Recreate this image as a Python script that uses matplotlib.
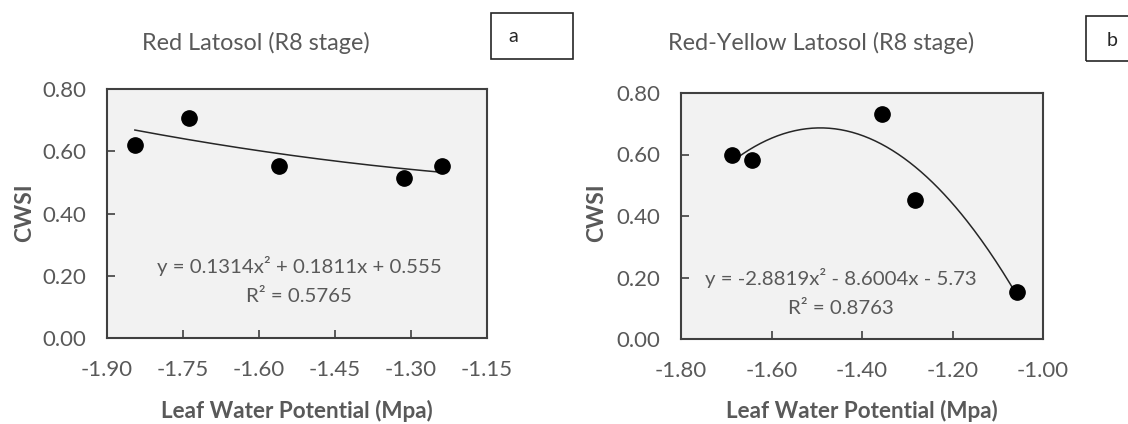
import numpy as np
import matplotlib
matplotlib.use("Agg")
import matplotlib.pyplot as plt
from matplotlib.patches import Rectangle
from matplotlib.ticker import FormatStrFormatter

plt.rcParams['font.family'] = ['Lato', 'DejaVu Sans']
plt.rcParams['axes.unicode_minus'] = False

# ---- data ----
titles = ["Red Latosol (R8 stage)", "Red-Yellow Latosol (R8 stage)"]
panel_tags = ["a", "b"]

lwp_a = [-1.845, -1.738, -1.560, -1.313, -1.238]
cwsi_a = [0.620, 0.708, 0.554, 0.513, 0.554]
coef_a = [0.1314, 0.1811, 0.555]
eq_a = "y = 0.1314x² + 0.1811x + 0.555"
r2_a = "R² = 0.5765"
xticks_a = [-1.90, -1.75, -1.60, -1.45, -1.30, -1.15]

lwp_b = [-1.688, -1.643, -1.355, -1.282, -1.057]
cwsi_b = [0.597, 0.581, 0.732, 0.453, 0.153]
coef_b = [-2.8819, -8.6004, -5.73]
eq_b = "y = -2.8819x² - 8.6004x - 5.73"
r2_b = "R² = 0.8763"
xticks_b = [-1.80, -1.60, -1.40, -1.20, -1.00]

yticks = [0.00, 0.20, 0.40, 0.60, 0.80]

GRAY = '#595959'
W, H = 1128, 424
fig = plt.figure(figsize=(11.28, 4.24), dpi=100)

def fx(px):
    return px / W

def fy(py):
    return 1 - py / H

panels = [
    dict(x=lwp_a, y=cwsi_a, coef=coef_a, eq=eq_a, r2=r2_a, xt=xticks_a,
         rect=[fx(107), fy(338), fx(487) - fx(107), fy(89) - fy(338)],
         eqpos=(299, 266), r2pos=(299, 297),
         title=titles[0], tpos=(256, 43),
         ylpos=(25, 213), xlpos=(297, 411),
         box=(491, 13, 82, 46), tag=panel_tags[0], tagpos=(513, 37)),
    dict(x=lwp_b, y=cwsi_b, coef=coef_b, eq=eq_b, r2=r2_b, xt=xticks_b,
         rect=[fx(681), fy(339), fx(1043) - fx(681), fy(93) - fy(339)],
         eqpos=(841, 278), r2pos=(841, 308),
         title=titles[1], tpos=(821, 43),
         ylpos=(597, 213), xlpos=(862, 411),
         box=(1086, 16, 60, 45), tag=panel_tags[1], tagpos=(1112, 40)),
]

for p in panels:
    ax = fig.add_axes(p['rect'])
    ax.set_facecolor('#f2f2f2')
    xs = np.linspace(min(p['x']), max(p['x']), 200)
    ax.plot(xs, np.polyval(p['coef'], xs), color='#262626', lw=1.1, zorder=2)
    ax.plot(p['x'], p['y'], 'o', color='black', markersize=11, zorder=3)
    ax.set_xlim(p['xt'][0], p['xt'][-1])
    ax.set_ylim(0, 0.8)
    ax.set_xticks(p['xt'])
    ax.set_yticks(yticks)
    ax.xaxis.set_major_formatter(FormatStrFormatter('%.2f'))
    ax.yaxis.set_major_formatter(FormatStrFormatter('%.2f'))
    ax.tick_params(direction='in', length=6, width=1.2, color='#404040',
                   labelsize=16, labelcolor=GRAY)
    ax.tick_params(axis='x', pad=16)
    ax.tick_params(axis='y', pad=15)
    for s in ax.spines.values():
        s.set_color('#404040')
        s.set_linewidth(1.5)
    fig.text(fx(p['eqpos'][0]), fy(p['eqpos'][1]), p['eq'], ha='center', va='center',
             fontsize=14.7, color=GRAY)
    fig.text(fx(p['r2pos'][0]), fy(p['r2pos'][1]), p['r2'], ha='center', va='center',
             fontsize=14.7, color=GRAY)
    fig.text(fx(p['tpos'][0]), fy(p['tpos'][1]), p['title'], ha='center', va='center',
             fontsize=16.8, color=GRAY)
    fig.text(fx(p['ylpos'][0]), fy(p['ylpos'][1]), "CWSI", ha='center', va='center',
             rotation=90, fontsize=16.5, fontweight='bold', color=GRAY)
    fig.text(fx(p['xlpos'][0]), fy(p['xlpos'][1]), "Leaf Water Potential (Mpa)",
             ha='center', va='center', fontsize=16.2, fontweight='bold', color=GRAY)
    bx, by, bw, bh = p['box']
    fig.add_artist(Rectangle((fx(bx), fy(by + bh)), bw / W, bh / H, transform=fig.transFigure,
                             fill=False, edgecolor='#262626', lw=1.2))
    fig.text(fx(p['tagpos'][0]), fy(p['tagpos'][1]), p['tag'], ha='center', va='center',
             fontsize=14, color='#262626')

fig.savefig("out.png", dpi=100)
